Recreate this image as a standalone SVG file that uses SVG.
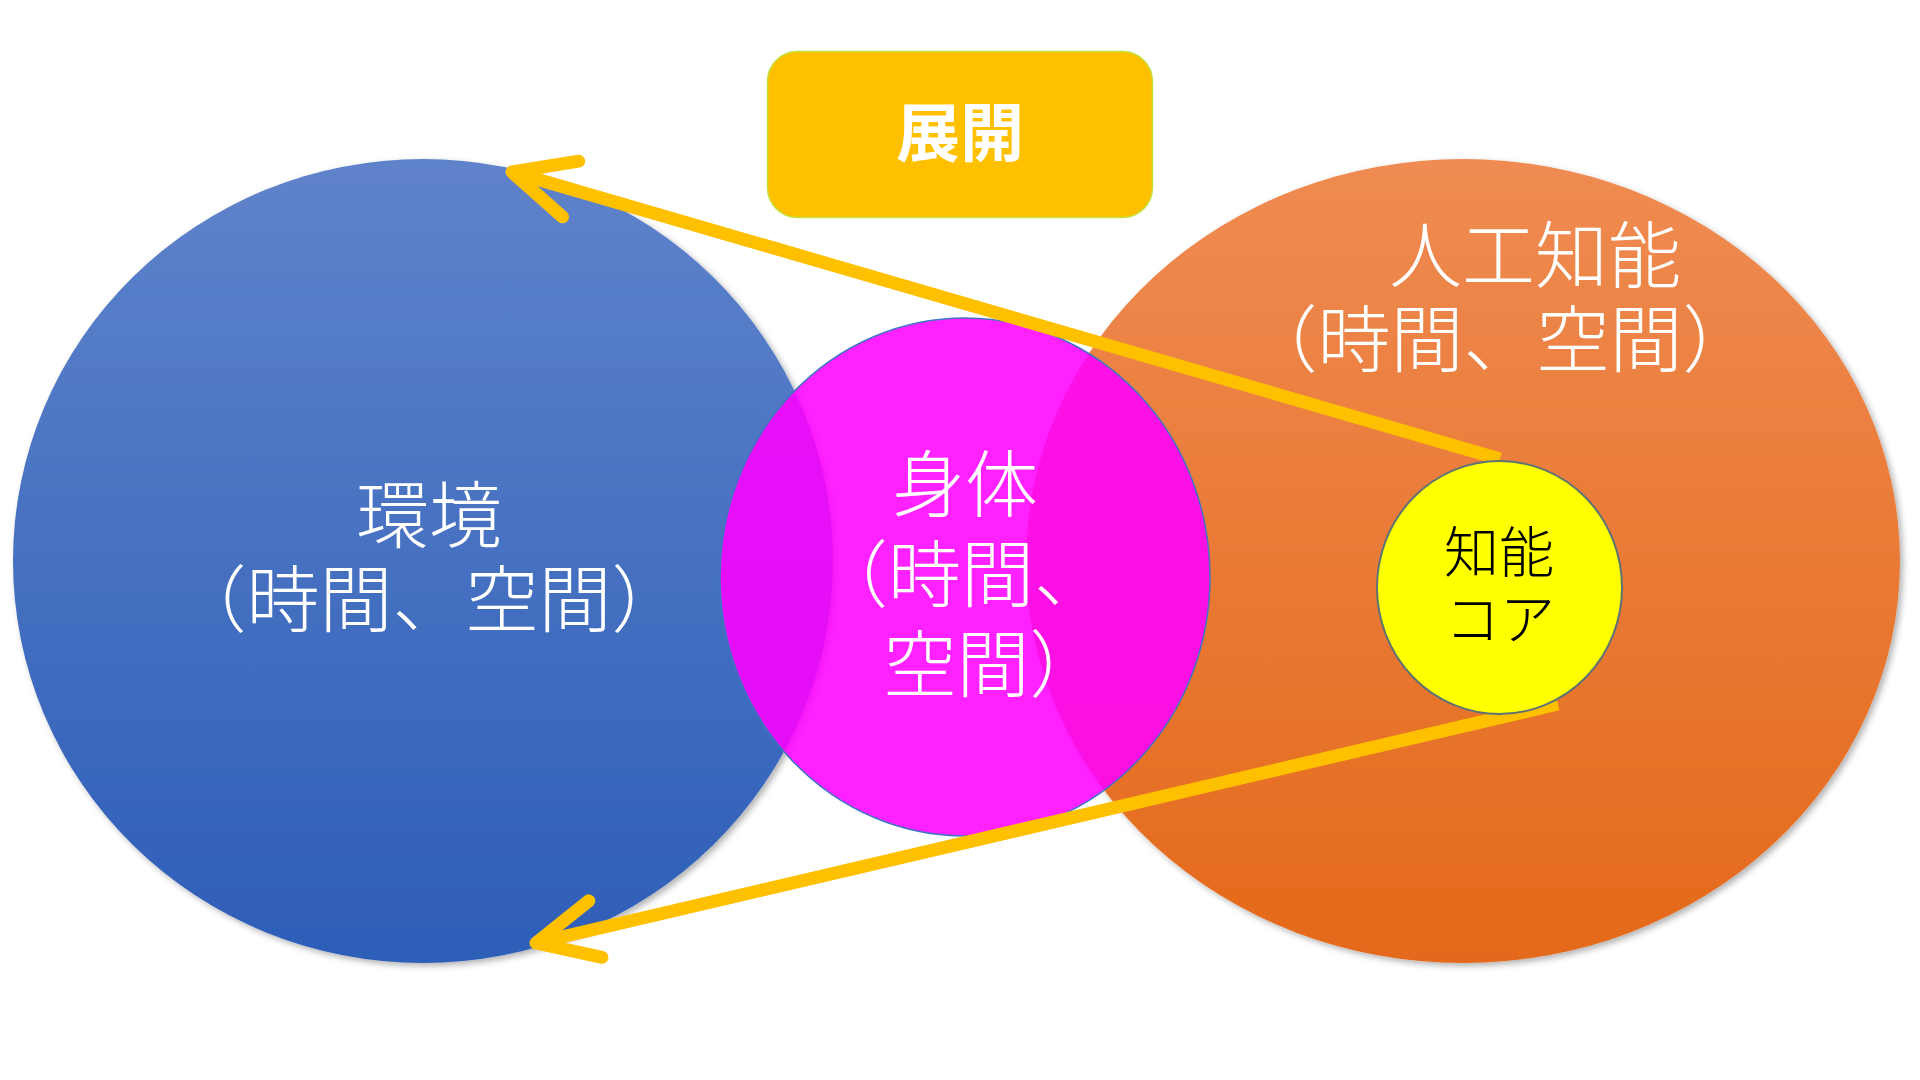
<svg xmlns="http://www.w3.org/2000/svg" width="1920" height="1080" viewBox="0 0 1920 1080">
<style>
.t{font-family:"Noto Sans CJK JP","Noto Sans CJK SC",sans-serif;font-weight:300;text-anchor:middle}
.w{fill:#FFFFFF;font-size:73px}
.k{fill:#000000;font-size:55px}
.b{fill:#FFFFFF;font-size:64px;font-weight:700}
.conn{fill:none;stroke:#FFC000;stroke-width:13;stroke-linecap:butt}
</style>
<defs>
<linearGradient id="gBlue" x1="0" y1="0" x2="0" y2="1">
<stop offset="0" stop-color="#5F83CA"/>
<stop offset="1" stop-color="#2D5EB8"/>
</linearGradient>
<linearGradient id="gOrange" x1="0" y1="0" x2="0" y2="1">
<stop offset="0" stop-color="#EF8B52"/>
<stop offset="1" stop-color="#E4691A"/>
</linearGradient>
<filter id="sh" x="-10%" y="-10%" width="120%" height="120%">
<feDropShadow dx="3" dy="3" stdDeviation="3" flood-color="#000000" flood-opacity="0.3"/>
</filter>
<marker id="chev" markerUnits="userSpaceOnUse" markerWidth="10" markerHeight="10" refX="0" refY="0" orient="auto" overflow="visible">
<path d="M -61 -29 L 0 0 L -61 29" fill="none" stroke="#FFC000" stroke-width="13" stroke-linecap="round" stroke-linejoin="round"/>
</marker>
</defs>
<rect width="1920" height="1080" fill="#FFFFFF"/>

<g id="env">
<ellipse cx="423" cy="561" rx="410" ry="402" fill="url(#gBlue)" filter="url(#sh)"/>
<text class="t w" x="429" y="542">環境</text>
<text class="t w" x="429" y="626">（時間、空間）</text>
</g>

<g id="ai">
<ellipse cx="1463" cy="561" rx="437" ry="402" fill="url(#gOrange)" filter="url(#sh)"/>
<text class="t w" x="1535" y="282">人工知能</text>
<text class="t w" x="1500" y="366">（時間、空間）</text>
</g>

<g id="body">
<ellipse cx="965" cy="577" rx="245" ry="259" fill="#FF00FF" fill-opacity="0.87" stroke="#4472C4" stroke-width="1.5"/>
<text class="t w" x="965" y="511">身体</text>
<text class="t w" x="961" y="601">（時間、</text>
<text class="t w" x="993" y="691">空間）</text>
</g>

<g id="expand">
<rect x="767.500" y="51.500" width="385" height="166" rx="30" fill="#FFC000" stroke="#C5E03A" stroke-width="1.5"/>
<text class="t b" x="960" y="156">展開</text>
</g>

<g id="connectors">
<path class="conn" d="M 1500 459 L 512 172" marker-end="url(#chev)"/>
<path class="conn" d="M 1558 704 L 536 943" marker-end="url(#chev)"/>
</g>

<g id="core">
<ellipse cx="1499.500" cy="587.500" rx="122.500" ry="126.500" fill="#FFFF00" stroke="#5F7373" stroke-width="2"/>
<text class="t k" x="1499" y="572">知能</text>
<text class="t k" x="1500" y="639">コア</text>
</g>
</svg>
